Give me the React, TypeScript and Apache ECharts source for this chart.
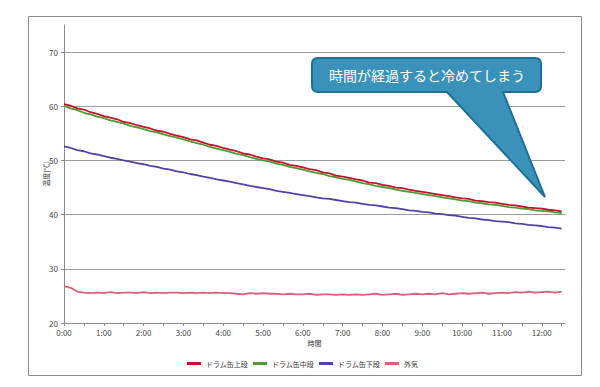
import React, { useEffect, useRef } from "react";
import * as echarts from "echarts";

// minutes from 0:00, every 10 minutes up to 12:30
const minutes: number[] = Array.from({ length: 76 }, (_, i) => i * 10);

const seriesNames = ["ドラム缶上段", "ドラム缶中段", "ドラム缶下段", "外気"];

const upper: number[] = [
  60.4, 60.1, 59.6, 59.4, 58.9, 58.6,
  58.2, 57.9, 57.6, 57.1, 56.9, 56.5,
  56.2, 55.9, 55.5, 55.3, 54.9, 54.6,
  54.3, 53.9, 53.7, 53.3, 52.9, 52.7,
  52.3, 52.0, 51.7, 51.3, 51.1, 50.7,
  50.4, 50.2, 49.8, 49.6, 49.2, 49.0,
  48.7, 48.4, 48.2, 47.8, 47.6, 47.2,
  47.0, 46.8, 46.5, 46.3, 45.9, 45.8,
  45.5, 45.3, 45.0, 44.9, 44.6, 44.4,
  44.2, 44.0, 43.8, 43.6, 43.4, 43.2,
  43.0, 42.9, 42.6, 42.5, 42.3, 42.2,
  42.0, 41.8, 41.7, 41.5, 41.3, 41.2,
  41.1, 40.9, 40.8, 40.6,
];

const middle: number[] = [
  60.1, 59.6, 59.3, 58.8, 58.5, 58.1,
  57.8, 57.4, 57.1, 56.8, 56.4, 56.1,
  55.8, 55.4, 55.2, 54.8, 54.5, 54.2,
  53.9, 53.5, 53.2, 52.9, 52.5, 52.2,
  51.9, 51.6, 51.2, 51.0, 50.6, 50.3,
  50.0, 49.8, 49.4, 49.2, 48.8, 48.6,
  48.3, 48.0, 47.7, 47.5, 47.1, 46.9,
  46.6, 46.4, 46.1, 45.8, 45.6, 45.3,
  45.1, 44.9, 44.6, 44.4, 44.2, 44.0,
  43.8, 43.6, 43.4, 43.2, 43.0, 42.8,
  42.6, 42.5, 42.2, 42.1, 41.9, 41.8,
  41.6, 41.4, 41.3, 41.1, 41.0, 40.8,
  40.7, 40.6, 40.4, 40.3,
];

const lower: number[] = [
  52.6, 52.3, 51.9, 51.7, 51.3, 51.1,
  50.8, 50.5, 50.3, 50.0, 49.8, 49.5,
  49.3, 49.0, 48.8, 48.5, 48.3, 48.0,
  47.8, 47.5, 47.3, 47.0, 46.8, 46.5,
  46.3, 46.1, 45.8, 45.6, 45.3, 45.1,
  44.9, 44.7, 44.4, 44.2, 44.0, 43.8,
  43.6, 43.4, 43.2, 43.0, 42.9, 42.7,
  42.5, 42.3, 42.2, 42.0, 41.8, 41.7,
  41.5, 41.3, 41.2, 41.0, 40.8, 40.7,
  40.5, 40.4, 40.2, 40.1, 39.9, 39.8,
  39.6, 39.4, 39.3, 39.1, 39.0, 38.8,
  38.7, 38.6, 38.4, 38.3, 38.1, 38.0,
  37.9, 37.7, 37.6, 37.4,
];

const outside: number[] = [
  26.8, 26.5, 25.8, 25.6, 25.5, 25.6,
  25.5, 25.7, 25.5, 25.6, 25.6, 25.5,
  25.7, 25.5, 25.6, 25.5, 25.6, 25.6,
  25.5, 25.6, 25.5, 25.6, 25.5, 25.6,
  25.5, 25.5, 25.4, 25.3, 25.5, 25.4,
  25.5, 25.4, 25.4, 25.3, 25.4, 25.3,
  25.3, 25.4, 25.2, 25.3, 25.3, 25.2,
  25.3, 25.2, 25.3, 25.2, 25.3, 25.4,
  25.2, 25.3, 25.4, 25.2, 25.3, 25.4,
  25.3, 25.4, 25.3, 25.5, 25.3, 25.4,
  25.5, 25.4, 25.5, 25.6, 25.4, 25.5,
  25.6, 25.5, 25.7, 25.6, 25.8, 25.6,
  25.7, 25.8, 25.6, 25.8,
];

const seriesData = [upper, middle, lower, outside];
const colors = ["#C0142A", "#4E9A35", "#5540A8", "#D8607A"];

const calloutText = "時間が経過すると冷めてしまう";
const yAxisName = "温度[℃]";
const xAxisName = "時間";

const FONT = "'Noto Sans CJK JP', 'Noto Sans', sans-serif";

const calloutPath =
  "M318,58 H535 Q541,58 541,64 V86 Q541,92 535,92 H503 L545,197 L447,92 H318 Q312,92 312,86 V64 Q312,58 318,58 Z";

let registered = false;

export default function App() {
  const ref = useRef<HTMLDivElement>(null);

  useEffect(() => {
    if (!ref.current) return;
    if (!registered) {
      echarts.graphic.registerShape(
        "callout",
        echarts.graphic.extendPath(calloutPath, {}) as any
      );
      registered = true;
    }
    const chart = echarts.init(ref.current, undefined, { renderer: "svg" });
    const option: any = {
      animation: false,
      backgroundColor: "#ffffff",
      textStyle: { fontFamily: FONT },
      grid: { left: 64, right: 35, top: 25, bottom: 64, containLabel: false },
      legend: {
        data: seriesNames,
        top: 360,
        left: 187,
        padding: 0,
        icon: "rect",
        itemWidth: 14,
        itemHeight: 3,
        itemGap: 5,
        textStyle: { fontSize: 7, color: "#333", fontFamily: FONT },
      },
      xAxis: {
        type: "value",
        min: 0,
        max: 755,
        interval: 30,
        name: xAxisName,
        nameLocation: "middle",
        nameGap: 16,
        nameMoveOverlap: false,
        nameTextStyle: { fontSize: 7, color: "#333", fontFamily: FONT },
        axisLine: { show: true, lineStyle: { color: "#8a8a8a", width: 1 } },
        axisTick: { show: true, length: 3, lineStyle: { color: "#8a8a8a" } },
        splitLine: { show: false },
        axisLabel: {
          fontSize: 8,
          color: "#444",
          margin: 5,
          showMaxLabel: false,
          formatter: (v: number) => (v % 60 === 0 ? `${v / 60}:00` : ""),
        },
      },
      yAxis: {
        type: "value",
        min: 20,
        max: 75,
        interval: 10,
        name: yAxisName,
        nameLocation: "middle",
        nameGap: 15,
        nameMoveOverlap: false,
        nameTextStyle: { fontSize: 7, color: "#333", fontFamily: FONT },
        axisLine: { show: true, lineStyle: { color: "#8a8a8a", width: 1 } },
        axisTick: { show: true, length: 3, lineStyle: { color: "#8a8a8a" } },
        axisLabel: {
          fontSize: 8,
          color: "#444",
          margin: 6,
          showMaxLabel: false,
        },
        splitLine: {
          show: true,
          lineStyle: {
            color: ["#9a9a9a", "#9a9a9a", "#9a9a9a", "#9a9a9a", "#9a9a9a", "#9a9a9a", "rgba(0,0,0,0)"],
            width: 1,
          },
        },
      },
      series: seriesNames.map((name, i) => ({
        name,
        type: "line",
        data: minutes.map((m, j) => [m, seriesData[i][j]]),
        showSymbol: false,
        symbol: "none",
        lineStyle: { width: 1.8, color: colors[i] },
        itemStyle: { color: colors[i] },
        z: 4 - i,
      })),
      graphic: [
        {
          type: "rect",
          shape: { x: 28.5, y: 16.5, width: 553, height: 359 },
          style: { fill: "none", stroke: "#8a8a8a", lineWidth: 1 },
          silent: true,
          z: 0,
        },
        {
          type: "callout",
          x: 0,
          y: 0,
          style: { fill: "#3A92BA", stroke: "#1F6F96", lineWidth: 2 },
          z: 10,
        },
        {
          type: "text",
          x: 427,
          y: 75,
          style: {
            text: calloutText,
            fill: "#ffffff",
            fontSize: 14,
            fontFamily: FONT,
            align: "center",
            verticalAlign: "middle",
          },
          z: 11,
        },
      ],
    };
    chart.setOption(option);
    return () => {
      chart.dispose();
    };
  }, []);

  return (
    <div
      ref={ref}
      style={{ position: "absolute", left: 0, top: 0, width: 600, height: 387 }}
    />
  );
}
